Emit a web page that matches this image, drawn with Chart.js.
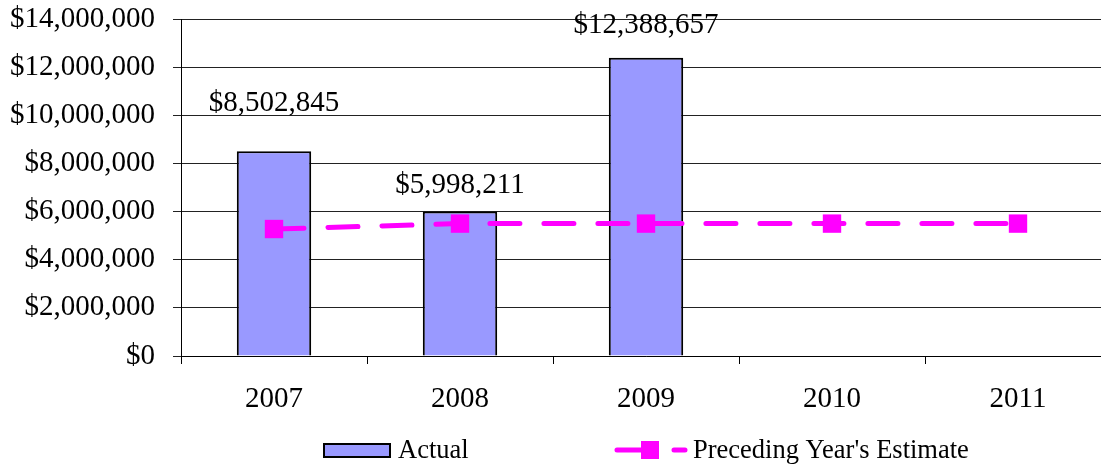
<!DOCTYPE html>
<html>
<head>
<meta charset="utf-8">
<script src="https://cdn.jsdelivr.net/npm/chart.js@4/dist/chart.umd.min.js"></script>
<style>
  html, body { margin: 0; padding: 0; background: #fff; overflow: hidden; }
  #wrap { width: 1112px; height: 465px; }
  canvas { display: block; }
</style>
</head>
<body>
<div id="wrap"><canvas id="chart" width="1112" height="465"></canvas></div>
<script>
// ---- data ----
const years = ['2007', '2008', '2009', '2010', '2011'];
const actual = [8502845, 5998211, 12388657, null, null];
const estimate = [5275000, 5500000, 5500000, 5500000, 5500000];
const yTicks = [0, 2000000, 4000000, 6000000, 8000000, 10000000, 12000000, 14000000];

const FONT = '"Liberation Serif", "Times New Roman", serif';
const MAGENTA = '#FF00FF';

const money = (v) => '$' + Math.round(v).toLocaleString('en-US');

// value labels above the bars
const barLabels = {
  id: 'barLabels',
  afterDatasetsDraw(chart) {
    const ctx = chart.ctx;
    const meta = chart.getDatasetMeta(1);
    const lift = [48, 26, 32];
    ctx.save();
    ctx.font = '29px ' + FONT;
    ctx.fillStyle = '#000';
    ctx.textAlign = 'center';
    ctx.textBaseline = 'middle';
    meta.data.forEach((bar, i) => {
      if (actual[i] == null) return;
      ctx.fillText(money(actual[i]), bar.x, bar.y - (lift[i] || 34));
    });
    ctx.restore();
  }
};

// legend drawn by hand (bar box + dashed line with square)
const customLegend = {
  id: 'customLegend',
  afterDraw(chart) {
    const ctx = chart.ctx;
    const y = 450;
    ctx.save();
    ctx.font = '26.5px ' + FONT;
    ctx.textBaseline = 'middle';

    ctx.fillStyle = '#9999FF';
    ctx.fillRect(324, 444, 66, 13);
    ctx.strokeStyle = '#000';
    ctx.lineWidth = 2;
    ctx.strokeRect(324, 444, 66, 13);
    ctx.fillStyle = '#000';
    ctx.fillText('Actual', 398, y + 1);

    ctx.strokeStyle = MAGENTA;
    ctx.lineWidth = 5;
    ctx.lineCap = 'round';
    ctx.beginPath();
    ctx.moveTo(617, y); ctx.lineTo(645, y);
    ctx.moveTo(674, y); ctx.lineTo(685, y);
    ctx.stroke();
    ctx.fillStyle = MAGENTA;
    ctx.fillRect(641, 441, 18, 18);
    ctx.fillStyle = '#000';
    ctx.fillText("Preceding Year's Estimate", 693, y + 1);
    ctx.restore();
  }
};

new Chart(document.getElementById('chart'), {
  data: {
    labels: years,
    datasets: [
      {
        type: 'line',
        label: "Preceding Year's Estimate",
        data: estimate,
        borderColor: MAGENTA,
        backgroundColor: MAGENTA,
        borderWidth: 5,
        borderDash: [30, 24],
        borderCapStyle: 'round',
        pointStyle: 'rect',
        pointRadius: 13,
        pointBorderWidth: 0,
        tension: 0,
        order: 0
      },
      {
        type: 'bar',
        label: 'Actual',
        data: actual,
        backgroundColor: '#9999FF',
        borderColor: '#000',
        borderWidth: 2,
        categoryPercentage: 0.4,
        barPercentage: 1,
        order: 1
      }
    ]
  },
  options: {
    responsive: false,
    animation: false,
    devicePixelRatio: 1,
    layout: { autoPadding: false, padding: { top: 19, right: 1, bottom: 55, left: 0 } },
    plugins: {
      legend: { display: false },
      tooltip: { enabled: false }
    },
    scales: {
      x: {
        offset: true,
        grid: {
          offset: true,
          drawOnChartArea: false,
          color: '#000',
          tickLength: 8
        },
        border: { color: '#000', width: 1 },
        ticks: { color: '#000', font: { family: FONT, size: 29 }, padding: 18 },
        afterFit(scale) {
          scale.height = 465 - 356 - 55;
          scale.paddingLeft = 0;
          scale.paddingRight = 0;
        }
      },
      y: {
        min: 0,
        max: 14000000,
        afterBuildTicks(scale) { scale.ticks = yTicks.map((v) => ({ value: v })); },
        grid: { color: '#222', lineWidth: 1, tickLength: 8 },
        border: { color: '#000', width: 1 },
        ticks: {
          color: '#000',
          font: { family: FONT, size: 29 },
          padding: 18,
          callback: (v) => money(v)
        },
        afterFit(scale) {
          scale.width = 181;
          scale.paddingTop = 0;
          scale.paddingBottom = 0;
        }
      }
    }
  },
  plugins: [barLabels, customLegend]
});
</script>
</body>
</html>
